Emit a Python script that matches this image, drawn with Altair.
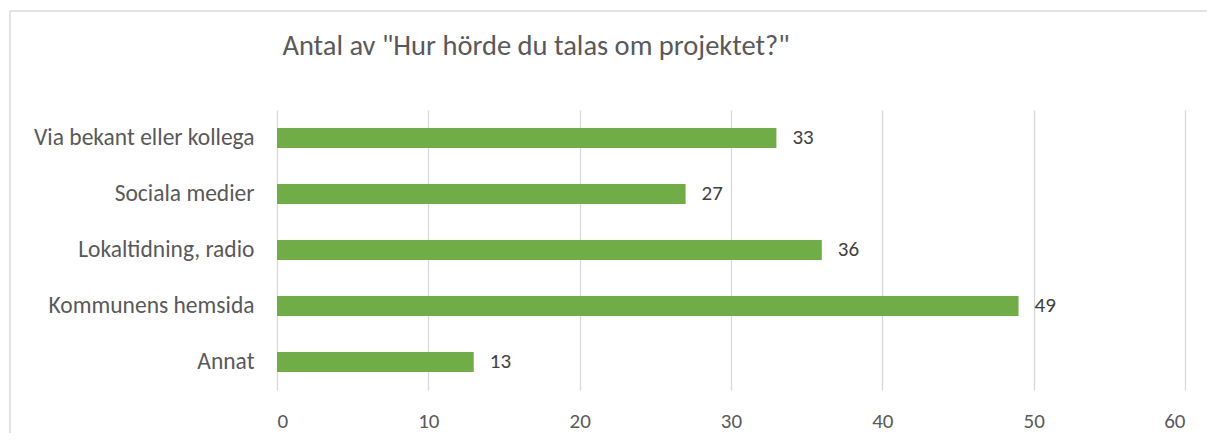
import altair as alt
import pandas as pd

categories = ["Via bekant eller kollega", "Sociala medier", "Lokaltidning, radio", "Kommunens hemsida", "Annat"]
counts = [33, 27, 36, 49, 13]
x_ticks = [0, 10, 20, 30, 40, 50, 60]
title_text = 'Antal av "Hur hörde du talas om projektet?"'

df = pd.DataFrame({"kategori": categories, "antal": counts})

FONT = "Carlito, Lato, sans-serif"

y_enc = alt.Y("kategori:N", sort=categories, title=None,
              scale=alt.Scale(paddingInner=0.64, paddingOuter=0.32),
              axis=alt.Axis(domain=False, ticks=False, labelPadding=23, labelLimit=0,
                            labelFontSize=23.5, labelColor="#595959", labelFont=FONT,
                            grid=False))
x_enc = alt.X("antal:Q", title=None,
              scale=alt.Scale(domain=[0, 60], nice=False),
              axis=alt.Axis(values=x_ticks, domain=False, ticks=False, labelPadding=20,
                            labelFontSize=21, labelColor="#595959", labelFont=FONT,
                            grid=True, gridColor="#d9d9d9", gridWidth=1.3))

bars = alt.Chart(df).mark_bar(color="#70ad47").encode(x=x_enc, y=y_enc)
labels = alt.Chart(df).mark_text(align="left", baseline="middle", dx=16,
                                 fontSize=21, color="#404040", font=FONT).encode(
    x="antal:Q", y=alt.Y("kategori:N", sort=categories), text="antal:Q")

single = alt.Data(values=[{"t": title_text}])
title_mark = alt.Chart(single).mark_text(align="center", baseline="alphabetic",
                                         fontSize=28.5, color="#595959", font=FONT).encode(
    x=alt.value(259), y=alt.value(-55), text="t:N")
top_border = alt.Chart(single).mark_rule(color="#d9d9d9", strokeWidth=1.5).encode(
    x=alt.value(-267), x2=alt.value(960), y=alt.value(-99))
left_border = alt.Chart(single).mark_rule(color="#d9d9d9", strokeWidth=1.5).encode(
    x=alt.value(-267), y=alt.value(-99), y2=alt.value(330))

chart = alt.layer(top_border, left_border, title_mark, bars, labels).properties(
    width=908, height=280,
    autosize=alt.AutoSizeParams(type="none"),
    padding={"left": 269, "top": 102, "right": 22, "bottom": 43},
).configure(background="white").configure_view(stroke=None)

chart.save("out.html", embed_options={"renderer": "svg", "actions": False})
